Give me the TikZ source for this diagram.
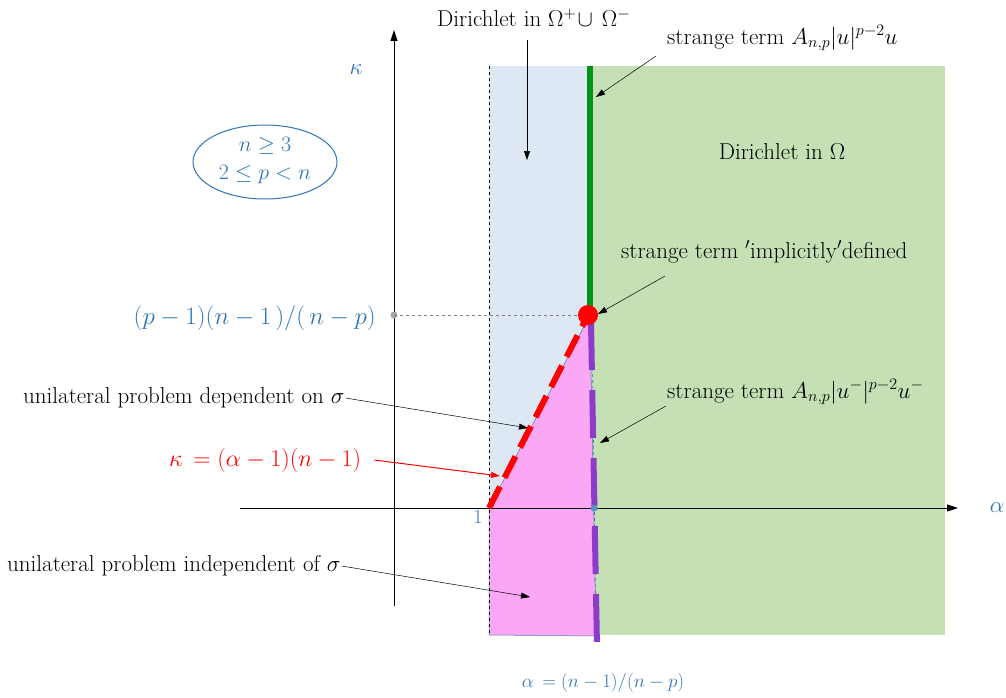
\RequirePackage{fix-cm}
\documentclass[tikz,border=0pt]{standalone}
\usepackage{amssymb}
\usetikzlibrary{arrows.meta}
\definecolor{lblue}{RGB}{221,232,244}
\definecolor{lgreen}{RGB}{197,224,180}
\definecolor{lpink}{RGB}{250,168,245}
\definecolor{dgreen}{RGB}{0,150,20}
\definecolor{purp}{RGB}{140,60,200}
\definecolor{tblue}{RGB}{46,117,182}
\begin{document}
\begin{tikzpicture}[x=1pt,y=-1pt,
  lab/.style={font=\fontsize{23}{27}\selectfont, inner sep=1pt},
  pt/.style={-{Triangle[length=9pt,width=6pt]}, line width=0.5pt},
  axis/.style={-{Triangle[length=11pt,width=7pt]}, line width=0.9pt}]
\useasboundingbox (0,0) rectangle (1006,698);
% regions
\fill[lgreen] (590,66) rectangle (945,635);
\fill[lblue] (489,66) rectangle (590,508);
\fill[lpink, draw=tblue!60!gray, line width=0.5pt] (489,508) -- (590,315) -- (596,636) -- (489,635) -- cycle;
\draw[black, dashed, line width=0.8pt] (489,66) -- (489,635);
\draw[tblue, dashed, line width=0.6pt] (592,320) -- (596,636);
% axes
\coordinate (xs) at (240,508); \coordinate (xe) at (958,508);
\coordinate (ys) at (394,606); \coordinate (ye) at (394,30);
\draw[axis] (xs) -- (xe);
\draw[axis] (ys) -- (ye);
\node[lab, text=tblue] (alab) at (997,508) {$\alpha$};
\node[lab, text=tblue] (klab) at (356,70) {$\kappa$};
% dashed level line
\fill[gray!70] (394,315) circle (3.5pt) coordinate (gdot);
\coordinate (rdot) at (588,315);
\draw[gray, dashed, line width=0.7pt] (gdot) -- (rdot);
% lines
\draw[dgreen, line width=6pt] (590,66) -- (590,312);
\draw[purp, line width=6pt, dash pattern=on 48pt off 20pt] (591,322) -- (597,648);
\coordinate (one) at (489,508);
\draw[red, line width=6pt, dash pattern=on 24pt off 10pt] (one) -- (rdot);
\fill[red] (rdot) circle (10pt);
\fill[tblue!80] (594,508) circle (3.5pt) coordinate (bdot);
% ellipse
\draw[tblue, line width=1pt] (265,162) ellipse (72pt and 37pt);
\node[font=\fontsize{22}{24}\selectfont, inner sep=1pt, text=tblue, align=center] (cond) at (265,161) {$n\geq 3$\\[4pt]$2\leq p<n$};
% labels
\node[lab, anchor=west] (dirpm) at (436,18) {Dirichlet in $\Omega^{+}\!\cup\,\Omega^{-}$};
\node[lab, anchor=west] (st1) at (666,38) {strange term $A_{n,p}|u|^{p-2}u$};
\node[lab] (dir) at (782,152) {Dirichlet in $\Omega$};
\node[lab, anchor=west] (st2) at (620,252) {strange term ${}'$implicitly${}'$defined};
\node[lab, anchor=west] (st3) at (666,392) {strange term $A_{n,p}|u^{-}|^{p-2}u^{-}$};
\node[font=\fontsize{25}{29}\selectfont, inner sep=1pt, anchor=east, text=tblue] (lev) at (377,318) {$(p-1)(n-1\,)/(\,n-p)$};
\node[lab, anchor=west] (dep) at (22,398) {unilateral problem dependent on $\sigma$};
\node[font=\fontsize{24}{28}\selectfont, inner sep=1pt, anchor=west, text=red] (kap) at (168,460) {$\kappa\,=(\alpha-1)(n-1)$};
\node[lab, anchor=west] (ind) at (6,566) {unilateral problem independent of $\sigma$};
\node[font=\fontsize{20}{22}\selectfont, text=tblue] (onelab) at (478,517) {1};
\node[font=\fontsize{19}{22}\selectfont, inner sep=1pt, text=tblue] (alp) at (603,683) {$\alpha\,=(n-1)/(n-p)$};
% pointer targets
\coordinate (t1) at (527,160);
\coordinate (t2) at (596,97);
\coordinate (t3) at (598,314);
\coordinate (t4) at (600,443);
\coordinate (t5) at (528,428);
\coordinate (t6) at (500,476);
\coordinate (t7) at (530,597);
\draw[pt] (527,40) -- (t1);
\draw[pt] (656,56) -- (t2);
\draw[pt] (665,276) -- (t3);
\draw[pt] (666,406) -- (t4);
\draw[pt] (dep.east) -- (t5);
\draw[pt, red, line width=1pt] (kap.east) ++(12,0) -- (t6);
\draw[pt] (ind.east) -- (t7);
\end{tikzpicture}
\end{document}
